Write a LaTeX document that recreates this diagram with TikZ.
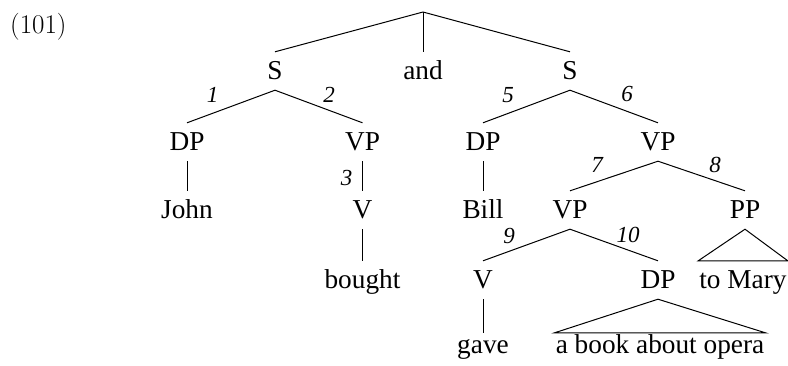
\documentclass[tikz,border=0pt]{standalone}
\usepackage{fontspec}
\newfontfamily\tms{Liberation Serif}
\begin{document}
\begin{tikzpicture}[x=1pt,y=-1pt,
  lab/.style={font=\tms\fontsize{27.3}{32}\selectfont, anchor=base, inner xsep=1pt, inner ysep=9pt, text height=18pt, text depth=2pt},
  leaf/.style={lab, text height=11pt},
  num/.style={font=\tms\itshape\fontsize{23}{28}\selectfont, anchor=base, inner sep=0pt},
  br/.style={line width=1pt}]
\useasboundingbox (0,0) rectangle (788,365);
\node[anchor=base west, inner sep=0pt, font=\fontsize{27}{32}\selectfont] (ex) at (10,33) {(101)};
\coordinate (top) at (423,12);
\node[lab] (S1) at (275,79) {S};
\node[lab] (and) at (423,79) {and};
\node[lab] (S2) at (570,79) {S};
\node[lab] (DP1) at (187,150) {DP};
\node[lab] (VP1) at (362.5,150) {VP};
\node[lab] (DP2) at (483,150) {DP};
\node[lab] (VP2) at (658,150) {VP};
\node[lab] (John) at (187,218) {John};
\node[lab] (V1) at (362.5,218) {V};
\node[lab] (Bill) at (483,218) {Bill};
\node[lab] (VP3) at (570,218) {VP};
\node[lab] (PP) at (745,218) {PP};
\node[lab] (bought) at (362.5,288) {bought};
\node[lab] (V2) at (483,288) {V};
\node[lab] (DP3) at (658,288) {DP};
\node[lab] (Mary) at (743,288) {to Mary};
\node[leaf] (gave) at (483,353) {gave};
\node[leaf] (book) at (660,353) {a book about opera};
\node[num] (n1) at (212.5,102) {1};
\node[num] (n2) at (329,102) {2};
\node[num] (n3) at (346.7,185) {3};
\node[num] (n5) at (508,102) {5};
\node[num] (n6) at (627,101) {6};
\node[num] (n7) at (597,172) {7};
\node[num] (n8) at (715,172) {8};
\node[num] (n9) at (509,243) {9};
\node[num] (n10) at (628,242) {10};
\draw[br] (top) -- (S1.north);
\draw[br] (top) -- (and.north);
\draw[br] (top) -- (S2.north);
\draw[br] (S1.south) -- (DP1.north);
\draw[br] (S1.south) -- (VP1.north);
\draw[br] (DP1.south) -- (John.north);
\draw[br] (VP1.south) -- (V1.north);
\draw[br] (V1.south) -- (bought.north);
\draw[br] (S2.south) -- (DP2.north);
\draw[br] (S2.south) -- (VP2.north);
\draw[br] (DP2.south) -- (Bill.north);
\draw[br] (VP2.south) -- (VP3.north);
\draw[br] (VP2.south) -- (PP.north);
\draw[br] (VP3.south) -- (V2.north);
\draw[br] (VP3.south) -- (DP3.north);
\draw[br] (V2.south) -- (gave.north);
\draw[br] (PP.south) -- (Mary.north west) -- (Mary.north east) -- cycle;
\draw[br] (DP3.south) -- (book.north west) -- (book.north east) -- cycle;
\end{tikzpicture}
\end{document}
